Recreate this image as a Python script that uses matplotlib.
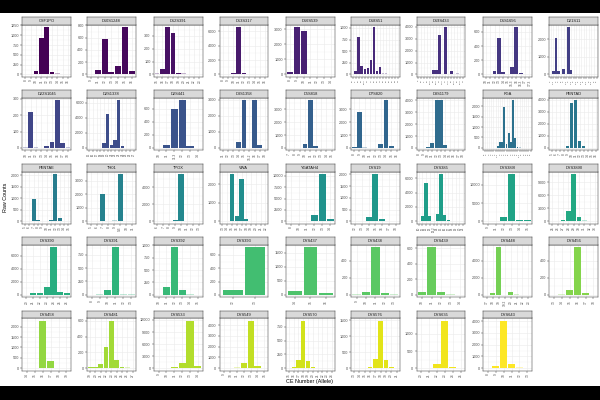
import numpy as np
import matplotlib.pyplot as plt
from matplotlib.patches import Rectangle
from matplotlib.ticker import MultipleLocator

plt.rcParams['font.family'] = ['Liberation Sans', 'DejaVu Sans']

markers = ['CSF1PO', 'D10S1248', 'D12S391', 'D13S317', 'D16S539', 'D18S51', 'D19S433', 'D1S1656', 'D21S11',
           'D22S1045', 'D2S1338', 'D2S441', 'D3S1358', 'D5S818', 'D7S820', 'D8S1179', 'FGA', 'PENTAD',
           'PENTAE', 'TH01', 'TPOX', 'VWA', 'YGATAH4', 'DYS19', 'DYS385', 'DYS389I', 'DYS389II',
           'DYS390', 'DYS391', 'DYS392', 'DYS393', 'DYS437', 'DYS438', 'DYS439', 'DYS448', 'DYS456',
           'DYS458', 'DYS481', 'DYS533', 'DYS549', 'DYS570', 'DYS576', 'DYS635', 'DYS643']

alleles = [
    ['8', '9', '10', '11', '12', '13', '14', '15', '16'],
    ['9', '11', '12', '13', '14', '15', '16'],
    ['15', '16', '17', '18', '19', '20', '21', '22', '23'],
    ['8', '9', '10', '11', '12', '13', '14', '15', '16'],
    ['8', '9', '10', '11', '12', '13', '14'],
    ['10', '11', '12', '13', '13.2', '14', '15', '16', '17', '18', '19', '20', '21', '22', '23', '24'],
    ['9', '10', '11', '12', '12.2', '13', '13.2', '14', '14.2', '15', '15.2', '16', '16.2', '17', '17.2', '18'],
    ['10', '11', '12', '13', '14', '15', '15.3', '16', '16.3', '17', '17.3'],
    ['24', '24.2', '25', '26', '27', '28', '28.2', '29', '29.2', '30', '30.2', '31', '31.2', '32', '32.2',
     '33', '33.2', '34', '35'],
    ['10', '11', '12', '13', '14', '15', '16', '17', '18'],
    ['15', '16', '17', '18', '19', '20', '21', '22', '23', '24', '25', '26', '27'],
    ['10', '11', '11.3', '12', '13', '14'],
    ['11', '12', '13', '14', '15', '15.2', '16', '17', '18'],
    ['7', '8', '9', '10', '11', '12', '13', '14', '15'],
    ['8', '9', '10', '11', '12', '13', '14', '15', '16'],
    ['8', '9', '10', '11', '12', '13', '14', '15', '16', '17', '18'],
    ['17', '18', '19', '20', '21', '22', '22.2', '23', '24', '25', '26', '27', '28', '29', '30', '31',
     '31.2', '32', '33', '34', '35', '36'],
    ['5', '6', '7', '8', '9', '10', '11', '12', '13', '14', '15', '16'],
    ['5', '6', '7', '8', '9', '10', '11', '12', '13', '14', '15'],
    ['5', '6', '7', '8', '9', '9.3', '10', '11'],
    ['6', '7', '8', '9', '10', '11', '12', '13'],
    ['13', '14', '15', '16', '17', '18', '19', '20', '21', '22'],
    ['8', '10', '11', '12', '13', '14'],
    ['12', '13', '14', '15', '16', '17', '18'],
    ['10', '11', '12', '13', '13.2', '14', '15', '16', '17', '18', '19', '20', '21'],
    ['9', '11', '12', '13', '14', '15'],
    ['25', '26', '27', '28', '29', '30', '31', '32', '33'],
    ['20', '21', '22', '23', '24', '25', '26'],
    ['8', '9', '10', '11', '12', '13'],
    ['10', '11', '12', '13', '14', '15'],
    ['12', '13'],
    ['14', '15', '16'],
    ['9', '10', '11', '12', '13'],
    ['10', '11', '12', '13', '14'],
    ['17', '18', '19', '19.2', '20', '21', '22', '23'],
    ['13', '14', '15', '16', '17', '18'],
    ['14', '15', '16', '17', '18', '19'],
    ['19', '20', '21', '22', '23', '24', '25', '26', '27'],
    ['9', '10', '11', '12', '13', '14'],
    ['9', '10', '11', '12', '13', '14', '15'],
    ['15', '16', '17', '18', '19', '20', '21', '22', '23', '24'],
    ['13', '14', '15', '16', '17', '18', '19', '20', '21'],
    ['20', '21', '22', '23', '24', '25'],
    ['8', '9', '10', '11', '12', '13'],
]

counts = [
    [0, 20, 80, 940, 1210, 50, 25, 0, 0],
    [5, 80, 580, 35, 140, 775, 50],
    [8, 40, 370, 325, 15, 8, 0, 0, 0],
    [0, 0, 250, 6600, 250, 30, 0, 0, 0],
    [170, 3150, 2850, 50, 15, 0, 0],
    [5, 80, 800, 180, 110, 140, 320, 1020, 70, 150, 25, 20, 5, 3, 3, 2],
    [0, 0, 0, 30, 0, 400, 400, 3350, 0, 4000, 0, 280, 0, 80, 0, 0],
    [0, 0, 50, 510, 40, 0, 100, 670, 25, 0, 0],
    [0, 220, 2100, 180, 0, 330, 0, 2700, 250, 0, 40, 0, 0, 0, 8, 0, 0, 8, 0],
    [3, 220, 5, 2, 10, 35, 290, 30, 3],
    [0, 0, 0, 30, 620, 4550, 400, 1000, 6300, 300, 10, 5, 0],
    [5, 40, 600, 730, 35, 0],
    [0, 0, 5, 350, 2950, 0, 2950, 180, 0],
    [0, 0, 10, 280, 3700, 180, 10, 5, 5],
    [100, 2800, 80, 5, 5, 300, 3700, 150, 0],
    [0, 5, 100, 430, 4000, 4000, 280, 30, 5, 0, 0],
    [0, 2, 2, 2, 5, 10, 80, 300, 270, 1950, 180, 700, 300, 2280, 480, 60, 30, 10, 5, 3, 2, 0],
    [0, 0, 0, 5, 180, 3750, 3950, 580, 120, 30, 5, 0],
    [5, 30, 980, 70, 5, 5, 60, 2050, 140, 10, 5],
    [3, 40, 2020, 5, 80, 3500, 40, 5],
    [0, 0, 5, 150, 5600, 40, 0, 0],
    [0, 0, 2550, 300, 2300, 100, 10, 5, 0, 5],
    [0, 10, 80, 1300, 10400, 500],
    [0, 5, 200, 2020, 80, 10, 10],
    [0, 700, 5400, 750, 30, 1050, 6600, 850, 250, 60, 20, 10, 5],
    [5, 50, 1300, 13000, 400, 450],
    [5, 5, 300, 2300, 10900, 1000, 200, 80, 10],
    [0, 200, 200, 1200, 7300, 500, 250],
    [5, 20, 90, 890, 15, 15],
    [5, 150, 960, 90, 15, 5],
    [70, 715],
    [120, 1700, 50],
    [5, 30, 560, 20, 8],
    [35, 610, 30, 10, 3],
    [5, 200, 5600, 5, 300, 80, 5, 5],
    [2, 5, 60, 560, 25, 3],
    [0, 0, 2280, 360, 0, 5],
    [15, 15, 55, 265, 600, 110, 15, 10, 2],
    [0, 5, 300, 1400, 11800, 500],
    [0, 5, 100, 450, 4400, 200, 10],
    [0, 25, 150, 860, 130, 30, 0, 0, 0, 0],
    [0, 0, 5, 40, 300, 1480, 250, 50, 0],
    [0, 20, 110, 1380, 40, 5],
    [10, 150, 4020, 330, 80, 10],
]

# y tick spacing of each facet
ystep = [250, 200, 100, 2000, 1000, 250, 1000, 200, 1000,
         100, 2000, 200, 1000, 1000, 1000, 1000, 500, 1000,
         500, 1000, 2000, 1000, 2500, 500, 2000, 5000, 3000,
         2000, 250, 250, 200, 500, 200, 200, 2000, 200,
         500, 200, 3000, 1000, 250, 500, 500, 1000]

W, H = 600, 400
col_left = [22.3, 87.0, 153.8, 219.5, 286.0, 351.0, 416.5, 483.2, 549.3]
panel_w = 48.8
panel_h = 52.2
strip_h = 7.6
row_top = [24.6 + 73.45 * r for r in range(5)]

fig = plt.figure(figsize=(6, 4), dpi=100, facecolor='white')
colors = plt.cm.viridis(np.linspace(0, 1, len(markers)))


def fig_box(x, y, w, h):
    return [x / W, 1 - (y + h) / H, w / W, h / H]


for i, name in enumerate(markers):
    r, c = divmod(i, 9)
    x0, y0 = col_left[c], row_top[r]
    vals = counts[i]
    n = len(vals)
    m = max(vals)

    ax = fig.add_axes(fig_box(x0, y0, panel_w, panel_h))
    bars = ax.bar(range(n), vals, width=0.9, color=colors[i], linewidth=0, zorder=3)
    for b, v in zip(bars, vals):
        if v < 0.025 * m:
            b.set_alpha(0.3)
    ax.set_xlim(-0.6, n - 0.4)
    ax.set_ylim(-0.05 * m, 1.05 * m)
    ax.yaxis.set_major_locator(MultipleLocator(ystep[i]))
    ax.yaxis.set_minor_locator(MultipleLocator(ystep[i] / 2))
    ax.set_xticks(range(n))
    ax.set_xticklabels(alleles[i], rotation=90)
    ax.grid(which='major', color='#EBEBEB', linewidth=0.4, zorder=0)
    ax.grid(which='minor', axis='y', color='#EBEBEB', linewidth=0.2, zorder=0)
    ax.set_axisbelow(True)
    ax.tick_params(axis='both', which='major', length=1.3, width=0.3, color='#333333',
                   labelsize=2.7, labelcolor='#4D4D4D', pad=1)
    ax.tick_params(axis='y', which='minor', length=0)
    ax.tick_params(axis='x', labelsize=max(1.5, min(2.3, 2.3 * 12 / n)), pad=0.8)
    for s in ax.spines.values():
        s.set_color('#333333')
        s.set_linewidth(0.35)

    sx = fig.add_axes(fig_box(x0, y0 - strip_h, panel_w, strip_h))
    sx.set_facecolor('#D9D9D9')
    sx.set_xticks([])
    sx.set_yticks([])
    for s in sx.spines.values():
        s.set_color('#333333')
        s.set_linewidth(0.35)
    sx.text(0.5, 0.5, name, ha='center', va='center', fontsize=2.9, color='#1A1A1A',
            transform=sx.transAxes)

fig.text(309 / W, 1 - 381.7 / H, 'CE Number (Allele)', ha='center', va='center', fontsize=3.9)
fig.text(6 / W, 1 - 197 / H, 'Raw Counts', ha='center', va='center', rotation=90, fontsize=3.9)

# letterbox bands
fig.add_artist(Rectangle((0, 1 - 12.7 / H), 1, 12.7 / H, transform=fig.transFigure,
                         facecolor='black', edgecolor='none'))
fig.add_artist(Rectangle((0, 0), 1, 14 / H, transform=fig.transFigure,
                         facecolor='black', edgecolor='none'))

fig.savefig('out.png', dpi=100, facecolor='white')
